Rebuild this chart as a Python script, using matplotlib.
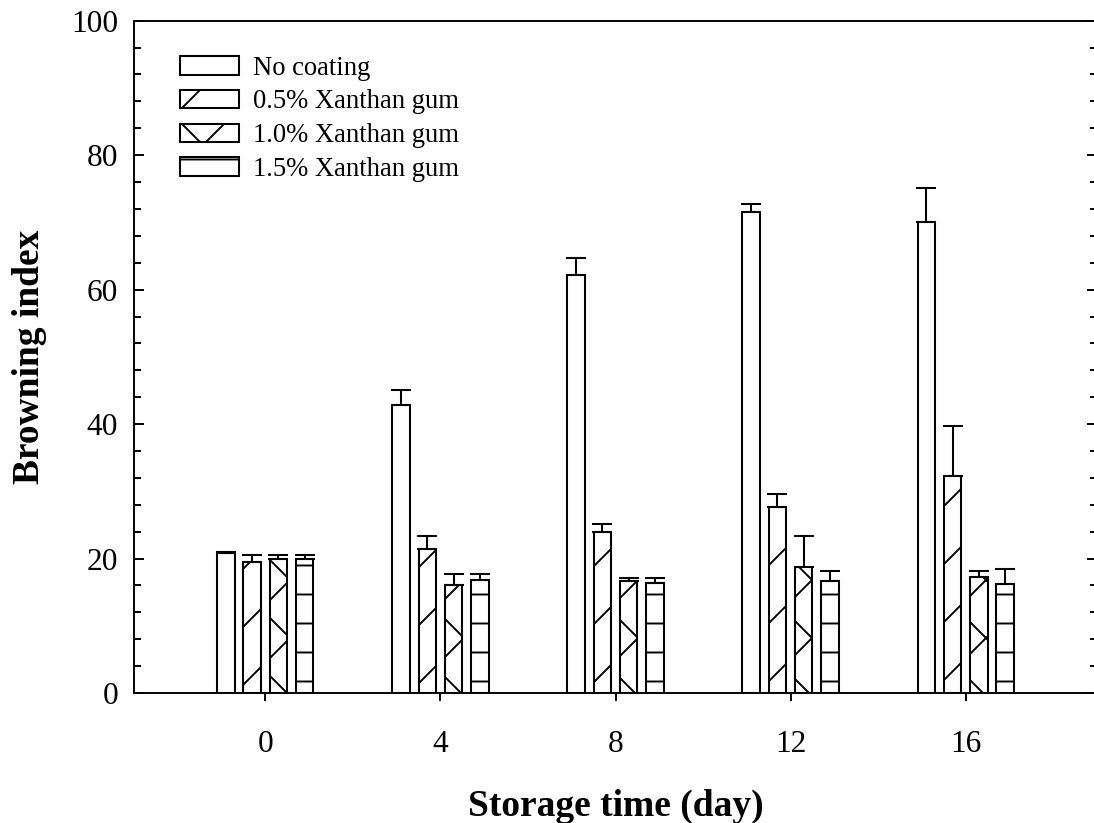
import matplotlib
matplotlib.use("Agg")
import matplotlib.pyplot as plt
import numpy as np
from matplotlib.ticker import MultipleLocator

plt.rcParams["font.family"] = ["Liberation Serif", "DejaVu Serif"]
plt.rcParams["hatch.linewidth"] = 0.8

days = [0, 4, 8, 12, 16]
series_names = ["No coating", "0.5% Xanthan gum", "1.0% Xanthan gum", "1.5% Xanthan gum"]
no_coating = [20.8, 42.8, 62.2, 71.5, 70.1]
no_coating_err = [0.1, 2.2, 2.5, 1.2, 5.0]
xg_05 = [19.5, 21.4, 24.0, 27.6, 32.3]
xg_05_err = [1.0, 2.0, 1.1, 2.0, 7.4]
xg_10 = [20.0, 16.1, 16.6, 18.8, 17.3]
xg_10_err = [0.5, 1.6, 0.5, 4.5, 0.9]
xg_15 = [20.0, 16.8, 16.3, 16.6, 16.2]
xg_15_err = [0.5, 0.9, 0.8, 1.6, 2.2]

values = [no_coating, xg_05, xg_10, xg_15]
errors = [no_coating_err, xg_05_err, xg_10_err, xg_15_err]
hatches = ["", "/", "x", "-"]

dpi = 174
fig = plt.figure(figsize=(1094 / dpi, 823 / dpi), dpi=dpi)
ax = fig.add_axes([134 / 1094, 130 / 823, 963 / 1094, 672.3 / 823])

x = np.array(days, dtype=float)
width = 0.4
pitch = 0.6
for i, (vals, errs, name, h) in enumerate(zip(values, errors, series_names, hatches)):
    pos = x + (i - 1.5) * pitch
    ax.bar(pos, vals, width, color="white", edgecolor="black", linewidth=0.85,
           hatch=h, label=name, zorder=2)
    ax.errorbar(pos, vals, yerr=[np.zeros(len(errs)), errs], fmt="none",
                ecolor="black", elinewidth=0.85, capsize=4.0, capthick=0.85, zorder=3)

ax.set_xlim(-3, 19)
ax.set_ylim(0, 100)
ax.set_xticks(days)
ax.yaxis.set_major_locator(MultipleLocator(20))
ax.yaxis.set_minor_locator(MultipleLocator(4))

ax.tick_params(axis="x", direction="out", length=3.5, width=0.8, labelsize=13, pad=12)
ax.tick_params(axis="y", which="major", direction="in", length=4, width=0.8,
               left=True, right=True, labelsize=13, pad=6.5)
ax.tick_params(axis="y", which="minor", direction="in", length=3, width=0.8,
               left=True, right=True)

for side in ["left", "bottom", "top", "right"]:
    ax.spines[side].set_linewidth(0.8)

ax.set_xlabel("Storage time (day)", fontsize=15.5, fontweight="bold", labelpad=12)
ax.set_ylabel("Browning index", fontsize=15.5, fontweight="bold", labelpad=10)

ax.legend(loc="upper left", bbox_to_anchor=(0.048, 0.948), frameon=False,
          fontsize=11, handlelength=2.2, handleheight=0.7, labelspacing=0.33,
          handletextpad=0.55, borderpad=0, borderaxespad=0)

fig.savefig("out.png", dpi=dpi)
